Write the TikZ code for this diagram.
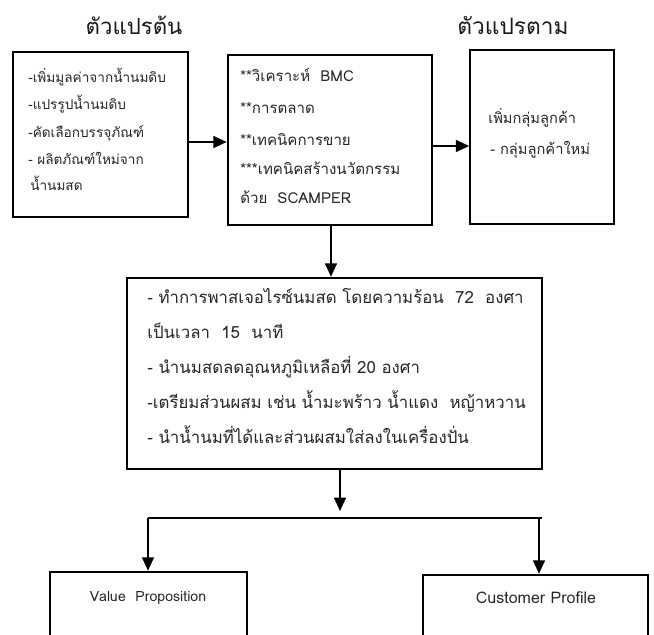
\documentclass[tikz,border=0pt]{standalone}
\usepackage{fontspec}
\newfontfamily\thai[Script=Thai]{Loma}
\usetikzlibrary{arrows.meta}
\tikzset{
  boxthin/.style={draw=black, line width=1.3pt, inner sep=0pt},
  boxthick/.style={draw=black, line width=2pt, inner sep=0pt},
  txt/.style={anchor=mid west, inner sep=0pt, text=black!85, font=\thai\fontsize{11}{13}\selectfont},
  txtA/.style={txt, font=\thai\fontsize{10.2}{12}\selectfont},
  txtB/.style={txt, font=\thai\fontsize{11.3}{13}\selectfont},
  txtD/.style={txt, font=\thai\fontsize{12.6}{14}\selectfont},
  title/.style={anchor=mid, inner sep=0pt, text=black!90, font=\thai\fontsize{16.6}{20}\selectfont},
  lat/.style={anchor=mid, inner sep=0pt, text=black!85, font=\thai\fontsize{10.6}{12}\selectfont},
  conn/.style={line width=1.4pt},
  arr/.style={line width=1pt, -{Triangle[length=10pt,width=9pt]}}
}
\begin{document}
\begin{tikzpicture}[x=0.75pt,y=-0.75pt]
\useasboundingbox (0,0) rectangle (654,635);
\fill[white] (0,0) rectangle (654,635);
\clip (0,0) rectangle (654,635);
% titles
\node[title] (t1) at (134,32) {ตัวแปรต้น};
\node[title, font=\thai\fontsize{17}{20}\selectfont] (t2) at (513,32) {ตัวแปรตาม};
% boxes
\node[boxthin, minimum width=131.25pt, minimum height=123.75pt] (b1) at (100.5,134.5) {};
\node[boxthick, minimum width=153pt, minimum height=127.5pt] (b2) at (330,140) {};
\node[boxthin, minimum width=108pt, minimum height=130.5pt] (b3) at (542,137) {};
\node[boxthick, minimum width=311.25pt, minimum height=143.25pt] (b4) at (334.5,373.5) {};
\node[boxthick, minimum width=147.75pt, minimum height=58.5pt] (vp) at (148.5,611) {};
\node[boxthick, minimum width=168.75pt, minimum height=56.25pt] (cp) at (535.5,612.5) {};
% box 1 text
\node[txtA] (a1) at (28,80) {-เพิ่มมูลค่าจากน้ำนมดิบ};
\node[txtA] (a2) at (28,107) {-แปรรูปน้ำนมดิบ};
\node[txtA] (a3) at (28,135) {-คัดเลือกบรรจุภัณฑ์};
\node[txtA] (a4) at (28,162) {- ผลิตภัณฑ์ใหม่จาก};
\node[txtA] (a5) at (30,188) {น้ำนมสด};
% box 2 text
\node[txtB] (c1) at (240,79) {**วิเคราะห์\ \ BMC};
\node[txtB] (c2) at (240,111) {**การตลาด};
\node[txtB] (c3) at (240,143) {**เทคนิคการขาย};
\node[txtB] (c4) at (240,172) {***เทคนิคสร้างนวัตกรรม};
\node[txtB] (c5) at (240,201) {ด้วย\ \ SCAMPER};
% box 3 text
\node[txt] (d1) at (488,121) {เพิ่มกลุ่มลูกค้า};
\node[txt] (d2) at (490,152) {- กลุ่มลูกค้าใหม่};
% box 4 text
\node[txtD] (e1) at (147,301) {- ทำการพาสเจอไรซ์นมสด โดยความร้อน\ \ 72\ \ องศา};
\node[txtD] (e2) at (147,336) {เป็นเวลา\ \ 15\ \ นาที};
\node[txtD] (e3) at (147,371) {- นำนมสดลดอุณหภูมิเหลือที่ 20 องศา};
\node[txtD] (e4) at (147,406) {-เตรียมส่วนผสม เช่น น้ำมะพร้าว น้ำแดง\ \ หญ้าหวาน};
\node[txtD] (e5) at (147,441) {- นำน้ำนมที่ได้และส่วนผสมใส่ลงในเครื่องปั่น};
% bottom texts
\node[lat] (vpt) at (148,599) {Value\ \ Proposition};
\node[lat, font=\thai\fontsize{12}{14}\selectfont] (cpt) at (536,601) {Customer Profile};
% connectors
\coordinate (y1) at (0,142);
\coordinate (y2) at (0,146);
\coordinate (x3) at (331,0);
\coordinate (x4) at (340,0);
\coordinate (j) at (340,518);
\coordinate (jl) at (148,518);
\coordinate (jr) at (542,518);
\coordinate (jr2) at (539,518);
\draw[arr] (b1.east |- y1) -- (b2.west |- y1);
\draw[arr] (b2.east |- y2) -- (b3.west |- y2);
\draw[arr] (b2.south -| x3) -- (b4.north -| x3);
\draw[arr] (b4.south -| x4) -- ([yshift=5.25pt]j);
\draw[conn] (jl) -- (jr);
\draw[arr] (jl) -- (vp.north -| jl);
\draw[arr] (jr2) -- (cp.north -| jr2);
\end{tikzpicture}
\end{document}
